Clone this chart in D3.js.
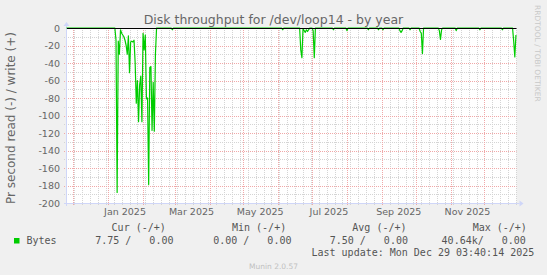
<!DOCTYPE html>
<html>
  <head>
    <title>Disk throughput for /dev/loop14 - by year</title>
    <script src="https://cdn.jsdelivr.net/npm/d3@7/dist/d3.min.js"></script>
    <style>
      body { margin: 0; background: #f0f0f0; }
      text { font-family: 'DejaVu Sans', sans-serif; }
      .mono { font-family: 'DejaVu Sans Mono', monospace; white-space: pre; }
    </style>
  </head>
  <body>
    <svg width="547" height="275" id="mainsvg" style="display: block;"></svg>
    <script>
      // daily averages of bytes read per second (drawn negative), write side is 0 all year
      const days = [
        '2024-11-25', '2025-01-07', '2025-01-08', '2025-01-09', '2025-01-10', '2025-01-11', '2025-01-12',
        '2025-01-13', '2025-01-14', '2025-01-15', '2025-01-16', '2025-01-17', '2025-01-18', '2025-01-19',
        '2025-01-20', '2025-01-21', '2025-01-22', '2025-01-23', '2025-01-24', '2025-01-25', '2025-01-26',
        '2025-01-27', '2025-01-28', '2025-01-29', '2025-01-30', '2025-01-31', '2025-02-01', '2025-02-02',
        '2025-02-03', '2025-02-04', '2025-02-05', '2025-02-06', '2025-02-07', '2025-02-08', '2025-02-09',
        '2025-02-10', '2025-02-11', '2025-02-12', '2025-02-13',
        '2025-02-26', '2025-02-27', '2025-02-28',
        '2025-06-04', '2025-06-05', '2025-06-06',
        '2025-06-20', '2025-06-21', '2025-06-22', '2025-06-23', '2025-06-24', '2025-06-25', '2025-06-26',
        '2025-06-27', '2025-06-28', '2025-06-29',
        '2025-07-01', '2025-07-02', '2025-07-03', '2025-07-04',
        '2025-07-19', '2025-07-20', '2025-07-21',
        '2025-07-31', '2025-08-01', '2025-08-02',
        '2025-08-19', '2025-08-20', '2025-08-21',
        '2025-08-28', '2025-08-29', '2025-08-30',
        '2025-09-01', '2025-09-02', '2025-09-03',
        '2025-09-16', '2025-09-17', '2025-09-18', '2025-09-19', '2025-09-20',
        '2025-09-25', '2025-09-26', '2025-09-27',
        '2025-10-04', '2025-10-05', '2025-10-06', '2025-10-07', '2025-10-08',
        '2025-10-21', '2025-10-22', '2025-10-23', '2025-10-24', '2025-10-25',
        '2025-11-05', '2025-11-06', '2025-11-07',
        '2025-11-26', '2025-11-27', '2025-11-28',
        '2025-12-16', '2025-12-17', '2025-12-18',
        '2025-12-26', '2025-12-27', '2025-12-28', '2025-12-29'
      ];
      const readValues = [
        0, 0, -14, -188, -15, -30, -2,
        -6, -8, -10, -14, -20, -30, -9,
        -51, -16, -15, -16, -14, -40, -86,
        -60, -107, -65, -55, -107, -6, -25,
        -8, -81, -80, -179, -45, -44, -117,
        -62, -118, -30, 0,
        0, -2, 0,
        0, -2, 0,
        0, -25, -34, -1, -3, -5, -2,
        -4, -2, 0,
        0, -3, -34, 0,
        0, -2, 0,
        0, -3, 0,
        0, -2, 0,
        0, -2, 0,
        0, -2, 0,
        0, -3, -5, -3, 0,
        0, -2, 0,
        0, -4, -6, -29, 0,
        0, -3, -13, -2, 0,
        0, -3, 0,
        0, -2, 0,
        0, -2, 0,
        0, -15, -33, -8
      ];
      const yTicks = [0, -20, -40, -60, -80, -100, -120, -140, -160, -180, -200];
      const xTickMonths = ['2025-01-01', '2025-03-01', '2025-05-01', '2025-07-01', '2025-09-01', '2025-11-01'];
      const legendHeads = ['Cur (-/+)', 'Min (-/+)', 'Avg (-/+)', 'Max (-/+)'];
      const legendValues = ['7.75 /   0.00', '0.00 /   0.00', '7.50 /   0.00', '40.64k/   0.00'];

      const svg = d3.select('#mainsvg');
      const parse = d3.timeParse('%Y-%m-%d');
      const data = days.map((d, i) => ({date: parse(d), value: readValues[i]}));

      const plotL = 67, plotR = 516.5, plotT = 28, plotB = 203;
      const x = d3.scaleTime()
        .domain([new Date(2024, 10, 25, 12), new Date(2025, 11, 29, 12)])
        .range([plotL, plotR]);
      const y = d3.scaleLinear().domain([-200, 0]).range([plotB, plotT]);
      const px = v => Math.round(v) + 0.5;

      // canvas
      svg.append('rect').attr('x', plotL).attr('y', plotT)
        .attr('width', plotR - plotL).attr('height', plotB - plotT).attr('fill', '#fff');

      const minorCol = '#d4d4d4', majorCol = '#f0a8a8';

      // minor grid: every 10 on y, weekly on x
      const gMin = svg.append('g').attr('fill', 'none').attr('stroke-dasharray', '1,1').attr('stroke', minorCol);
      gMin.selectAll('line.h').data(d3.range(-10, -200, -20)).join('line').attr('class', 'h')
        .attr('x1', plotL - 3).attr('x2', plotR)
        .attr('y1', d => px(y(d))).attr('y2', d => px(y(d)));
      gMin.selectAll('line.v').data(d3.timeMonday.range(...x.domain())).join('line').attr('class', 'v')
        .attr('x1', d => px(x(d))).attr('x2', d => px(x(d)))
        .attr('y1', plotT).attr('y2', plotB + 3);

      // major grid: every 20 on y, monthly on x
      const gMaj = svg.append('g').attr('fill', 'none').attr('stroke-dasharray', '1,1').attr('stroke', majorCol);
      gMaj.selectAll('line.h').data(yTicks.filter(d => d !== 0)).join('line').attr('class', 'h')
        .attr('x1', plotL - 3).attr('x2', plotR)
        .attr('y1', d => px(y(d))).attr('y2', d => px(y(d)));
      gMaj.selectAll('line.v').data(d3.timeMonth.range(...x.domain())).join('line').attr('class', 'v')
        .attr('x1', d => px(x(d))).attr('x2', d => px(x(d)))
        .attr('y1', plotT).attr('y2', plotB + 3);

      // axes with arrows
      const axisCol = '#cfd6f8';
      svg.append('line').attr('x1', plotL - 3).attr('x2', plotR + 3)
        .attr('y1', plotB + 0.5).attr('y2', plotB + 0.5).attr('stroke', axisCol);
      svg.append('path').attr('d', `M${plotR + 3},${plotB - 2.5}L${plotR + 7},${plotB + 0.5}L${plotR + 3},${plotB + 3.5}Z`)
        .attr('fill', axisCol);
      svg.append('line').attr('x1', plotL - 0.5).attr('x2', plotL - 0.5)
        .attr('y1', plotB + 3).attr('y2', plotT - 2).attr('stroke', axisCol);
      svg.append('path').attr('d', `M${plotL - 3.5},${plotT - 2}L${plotL - 0.5},${plotT - 6}L${plotL + 2.5},${plotT - 2}Z`)
        .attr('fill', axisCol);

      // data (read side, negative)
      svg.append('path').datum(data)
        .attr('fill', 'none')
        .attr('stroke', '#00cc00')
        .attr('stroke-width', 1.2)
        .attr('stroke-linejoin', 'round')
        .attr('d', d3.line().x(d => x(d.date)).y(d => y(d.value)));

      // zero line
      svg.append('line').attr('x1', plotL).attr('x2', plotR)
        .attr('y1', px(y(0))).attr('y2', px(y(0))).attr('stroke', '#000');

      // tick labels
      svg.selectAll('text.yt').data(yTicks).join('text').attr('class', 'yt')
        .attr('x', 60).attr('y', d => y(d) + 3.5)
        .attr('text-anchor', 'end').attr('font-size', '9.5px').attr('fill', '#666')
        .text(d => d);
      const fmt = d3.timeFormat('%b %Y');
      svg.selectAll('text.xt').data(xTickMonths.map(parse)).join('text').attr('class', 'xt')
        .attr('x', d => x(d3.timeDay.offset(d, 15)))
        .attr('y', 215)
        .attr('text-anchor', 'middle').attr('font-size', '9.5px').attr('fill', '#666')
        .text(fmt);

      // titles
      svg.append('text').attr('x', 273.5).attr('y', 24).attr('text-anchor', 'middle')
        .attr('font-size', '12.5px').attr('fill', '#666')
        .text('Disk throughput for /dev/loop14 - by year');
      svg.append('text').attr('transform', 'translate(15,118) rotate(-90)')
        .attr('text-anchor', 'middle').attr('font-size', '12px').attr('fill', '#666')
        .text('Pr second read (-) / write (+)');
      svg.append('text').attr('transform', 'translate(535,5) rotate(90)')
        .attr('font-size', '7.5px').attr('fill', '#c8c8c8')
        .text('RRDTOOL / TOBI OETIKER');

      // legend
      const headX = [111.6, 232, 352.3, 472.7];
      const valX = [95.2, 213.2, 329.7, 441.6];
      svg.append('rect').attr('x', 14).attr('y', 238).attr('width', 5.5).attr('height', 5.5).attr('fill', '#00cc00');
      svg.append('text').attr('class', 'mono').attr('x', 26.5).attr('y', 243.5)
        .attr('font-size', '10px').attr('fill', '#555').text('Bytes');
      svg.selectAll('text.lh').data(legendHeads).join('text').attr('class', 'lh mono')
        .attr('x', (d, i) => headX[i]).attr('y', 231)
        .attr('font-size', '10px').attr('fill', '#555').text(d => d);
      svg.selectAll('text.lv').data(legendValues).join('text').attr('class', 'lv mono')
        .attr('x', (d, i) => valX[i]).attr('y', 243.5)
        .attr('font-size', '10px').attr('fill', '#555').text(d => d);
      svg.append('text').attr('class', 'mono').attr('x', 311.5).attr('y', 255.5)
        .attr('font-size', '10px').attr('fill', '#555').text('Last update: Mon Dec 29 03:40:14 2025');
      svg.append('text').attr('x', 273.5).attr('y', 268.5).attr('text-anchor', 'middle')
        .attr('font-size', '7.5px').attr('fill', '#c0c0c0').text('Munin 2.0.57');
    </script>
  </body>
</html>
